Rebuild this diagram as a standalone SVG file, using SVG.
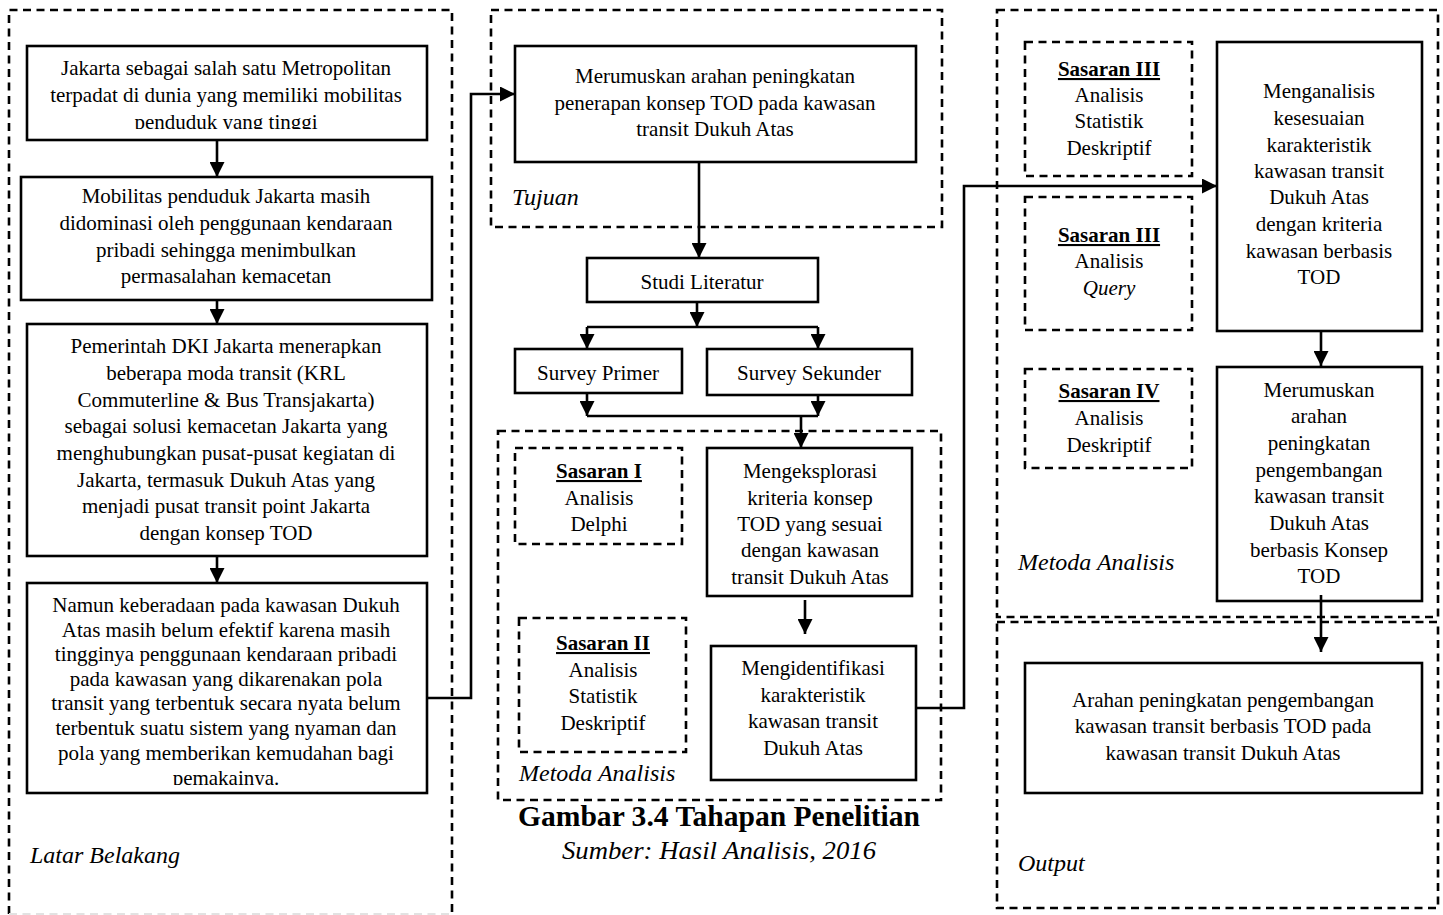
<svg xmlns="http://www.w3.org/2000/svg" width="1443" height="915" viewBox="0 0 1443 915">
<style>
text{font-family:"Liberation Serif","Times New Roman",serif;font-size:21px;fill:#000}
.c{text-anchor:middle}
.b{font-weight:bold;text-decoration:underline}
.i{font-style:italic;font-size:24px}
.q{font-style:italic}
.title{font-weight:bold;font-size:28.5px}
.src{font-style:italic;font-size:26px}
.box{fill:#fff;stroke:#000;stroke-width:2.6}
.dash{fill:none;stroke:#000;stroke-width:2.6;stroke-dasharray:8 5.5}
.con path{fill:none;stroke:#000;stroke-width:2.6}
</style>
<defs>
<marker id="ah" viewBox="0 0 14 14" refX="14" refY="7" markerWidth="15" markerHeight="15" markerUnits="userSpaceOnUse" orient="auto"><path d="M0,0 L14,7 L0,14 z" fill="#000"/></marker>
<clipPath id="cp1"><rect x="27" y="46" width="400" height="83"/></clipPath>
<clipPath id="cp4"><rect x="27" y="583" width="400" height="202"/></clipPath>
</defs>

<g id="containers">
<path class="dash" d="M9,914 V10 H452 V914"/>
<path d="M9,914 H452" fill="none" stroke="#e2e2e2" stroke-width="2" stroke-dasharray="8 5.5"/>
<rect class="dash" x="491" y="10" width="451" height="217"/>
<rect class="dash" x="498" y="431" width="443" height="369"/>
<rect class="dash" x="997" y="10" width="441" height="607"/>
<rect class="dash" x="997" y="622" width="441" height="286"/>
<text class="i" x="30" y="863">Latar Belakang</text>
<text class="i" x="512" y="205">Tujuan</text>
<text class="i" x="519" y="781">Metoda Analisis</text>
<text class="i" x="1018" y="570">Metoda Analisis</text>
<text class="i" x="1018" y="871">Output</text>
</g>

<g id="n1">
<rect class="box" x="27" y="46" width="400" height="94"/>
<g clip-path="url(#cp1)">
<text class="c" x="226" y="75">Jakarta sebagai salah satu Metropolitan</text>
<text class="c" x="226" y="102">terpadat di dunia yang memiliki mobilitas</text>
<text class="c" x="226" y="128.5">penduduk yang tinggi</text>
</g>
</g>

<g id="n2">
<rect class="box" x="21" y="177" width="411" height="123"/>
<text class="c" x="226" y="203">Mobilitas penduduk Jakarta masih</text>
<text class="c" x="226" y="230">didominasi oleh penggunaan kendaraan</text>
<text class="c" x="226" y="257">pribadi sehingga menimbulkan</text>
<text class="c" x="226" y="283">permasalahan kemacetan</text>
</g>

<g id="n3">
<rect class="box" x="27" y="324" width="400" height="232"/>
<text class="c" x="226" y="353">Pemerintah DKI Jakarta menerapkan</text>
<text class="c" x="226" y="380">beberapa moda transit (KRL</text>
<text class="c" x="226" y="407">Commuterline &amp; Bus Transjakarta)</text>
<text class="c" x="226" y="433">sebagai solusi kemacetan Jakarta yang</text>
<text class="c" x="226" y="460">menghubungkan pusat-pusat kegiatan di</text>
<text class="c" x="226" y="487">Jakarta, termasuk Dukuh Atas yang</text>
<text class="c" x="226" y="513">menjadi pusat transit point Jakarta</text>
<text class="c" x="226" y="540">dengan konsep TOD</text>
</g>

<g id="n4">
<rect class="box" x="27" y="583" width="400" height="210"/>
<g clip-path="url(#cp4)">
<text class="c" x="226" y="612">Namun keberadaan pada kawasan Dukuh</text>
<text class="c" x="226" y="637">Atas masih belum efektif karena masih</text>
<text class="c" x="226" y="661">tingginya penggunaan kendaraan pribadi</text>
<text class="c" x="226" y="686">pada kawasan yang dikarenakan pola</text>
<text class="c" x="226" y="710">transit yang terbentuk secara nyata belum</text>
<text class="c" x="226" y="735">terbentuk suatu sistem yang nyaman dan</text>
<text class="c" x="226" y="760">pola yang memberikan kemudahan bagi</text>
<text class="c" x="226" y="785">pemakainya.</text>
</g>
</g>

<g id="n5">
<rect class="box" x="515" y="46" width="401" height="116"/>
<text class="c" x="715" y="83">Merumuskan arahan peningkatan</text>
<text class="c" x="715" y="110">penerapan konsep TOD pada kawasan</text>
<text class="c" x="715" y="136">transit Dukuh Atas</text>
</g>

<g id="n6">
<rect class="box" x="587" y="258" width="231" height="44"/>
<text class="c" x="702" y="289">Studi Literatur</text>
</g>

<g id="n7">
<rect class="box" x="515" y="349" width="167" height="44"/>
<text class="c" x="598" y="380">Survey Primer</text>
</g>

<g id="n8">
<rect class="box" x="707" y="349" width="205" height="46"/>
<text class="c" x="809" y="380">Survey Sekunder</text>
</g>

<g id="n9">
<rect class="dash" x="515" y="448" width="167" height="96"/>
<text class="c b" x="599" y="478">Sasaran I</text>
<text class="c" x="599" y="505">Analisis</text>
<text class="c" x="599" y="531">Delphi</text>
</g>

<g id="n10">
<rect class="dash" x="519" y="618" width="167" height="134"/>
<text class="c b" x="603" y="650">Sasaran II</text>
<text class="c" x="603" y="677">Analisis</text>
<text class="c" x="603" y="703">Statistik</text>
<text class="c" x="603" y="730">Deskriptif</text>
</g>

<g id="n11">
<rect class="box" x="707" y="448" width="205" height="148"/>
<text class="c" x="810" y="478">Mengeksplorasi</text>
<text class="c" x="810" y="505">kriteria konsep</text>
<text class="c" x="810" y="531">TOD yang sesuai</text>
<text class="c" x="810" y="557">dengan kawasan</text>
<text class="c" x="810" y="584">transit Dukuh Atas</text>
</g>

<g id="n12">
<rect class="box" x="711" y="646" width="205" height="134"/>
<text class="c" x="813" y="675">Mengidentifikasi</text>
<text class="c" x="813" y="702">karakteristik</text>
<text class="c" x="813" y="728">kawasan transit</text>
<text class="c" x="813" y="755">Dukuh Atas</text>
</g>

<g id="n13">
<rect class="dash" x="1025" y="42" width="167" height="134"/>
<text class="c b" x="1109" y="76">Sasaran III</text>
<text class="c" x="1109" y="102">Analisis</text>
<text class="c" x="1109" y="128">Statistik</text>
<text class="c" x="1109" y="155">Deskriptif</text>
</g>

<g id="n14">
<rect class="dash" x="1025" y="197" width="167" height="133"/>
<text class="c b" x="1109" y="242">Sasaran III</text>
<text class="c" x="1109" y="268">Analisis</text>
<text class="c q" x="1109" y="295">Query</text>
</g>

<g id="n15">
<rect class="dash" x="1025" y="369" width="167" height="99"/>
<text class="c b" x="1109" y="398">Sasaran IV</text>
<text class="c" x="1109" y="425">Analisis</text>
<text class="c" x="1109" y="452">Deskriptif</text>
</g>

<g id="n16">
<rect class="box" x="1217" y="42" width="205" height="289"/>
<text class="c" x="1319" y="98">Menganalisis</text>
<text class="c" x="1319" y="125">kesesuaian</text>
<text class="c" x="1319" y="152">karakteristik</text>
<text class="c" x="1319" y="178">kawasan transit</text>
<text class="c" x="1319" y="204">Dukuh Atas</text>
<text class="c" x="1319" y="231">dengan kriteria</text>
<text class="c" x="1319" y="258">kawasan berbasis</text>
<text class="c" x="1319" y="284">TOD</text>
</g>

<g id="n17">
<rect class="box" x="1217" y="367" width="205" height="234"/>
<text class="c" x="1319" y="397">Merumuskan</text>
<text class="c" x="1319" y="423">arahan</text>
<text class="c" x="1319" y="450">peningkatan</text>
<text class="c" x="1319" y="477">pengembangan</text>
<text class="c" x="1319" y="503">kawasan transit</text>
<text class="c" x="1319" y="530">Dukuh Atas</text>
<text class="c" x="1319" y="557">berbasis Konsep</text>
<text class="c" x="1319" y="583">TOD</text>
</g>

<g id="n18">
<rect class="box" x="1025" y="663" width="397" height="130"/>
<text class="c" x="1223" y="707">Arahan peningkatan pengembangan</text>
<text class="c" x="1223" y="733">kawasan transit berbasis TOD pada</text>
<text class="c" x="1223" y="760">kawasan transit Dukuh Atas</text>
</g>

<g id="caption">
<text class="c title" x="719" y="826" textLength="402" lengthAdjust="spacingAndGlyphs">Gambar 3.4 Tahapan Penelitian</text>
<text class="c src" x="719" y="859" textLength="314" lengthAdjust="spacingAndGlyphs">Sumber: Hasil Analisis, 2016</text>
</g>

<g id="connectors" class="con">
<path d="M217,140 V177" marker-end="url(#ah)"/>
<path d="M217,300 V324" marker-end="url(#ah)"/>
<path d="M217,556 V583" marker-end="url(#ah)"/>
<path d="M427,698 H471 V94 H515" marker-end="url(#ah)"/>
<path d="M699,162 V258" marker-end="url(#ah)"/>
<path d="M697,302 V327" marker-end="url(#ah)"/>
<path d="M587,327 H818"/>
<path d="M587,327 V349" marker-end="url(#ah)"/>
<path d="M818,327 V349" marker-end="url(#ah)"/>
<path d="M587,393 V416" marker-end="url(#ah)"/>
<path d="M818,395 V416" marker-end="url(#ah)"/>
<path d="M587,416 H818"/>
<path d="M801,416 V448" marker-end="url(#ah)"/>
<path d="M805,600 V634" marker-end="url(#ah)"/>
<path d="M916,708 H964 V186 H1217" marker-end="url(#ah)"/>
<path d="M1321,331 V366" marker-end="url(#ah)"/>
<path d="M1321,595 V652" marker-end="url(#ah)"/>
</g>
</svg>
